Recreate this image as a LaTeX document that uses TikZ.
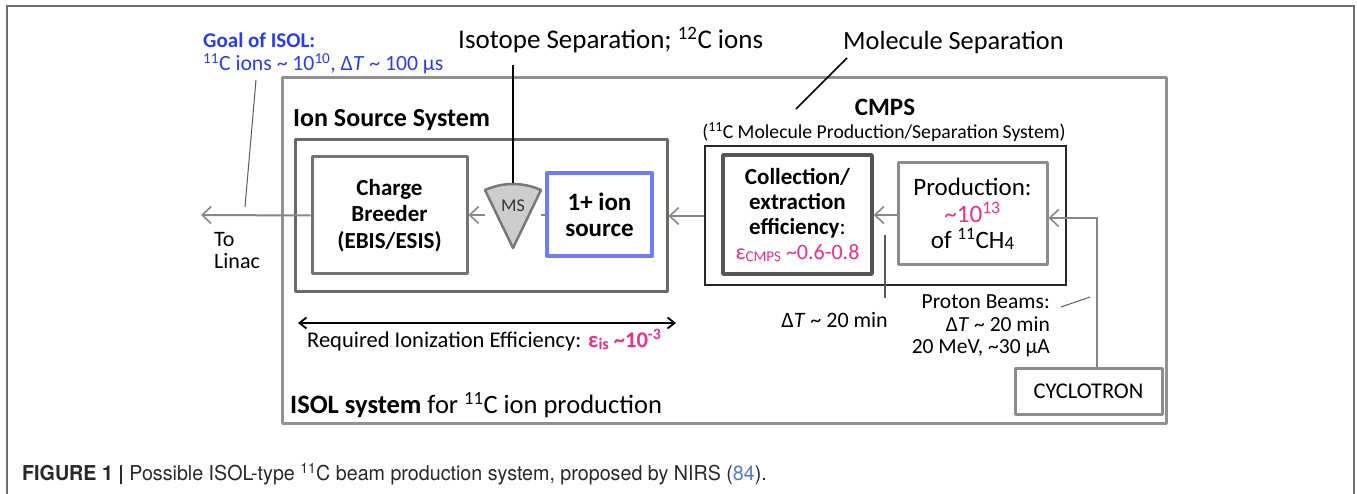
\documentclass[tikz,border=0pt]{standalone}
\usepackage{fontspec}
\setmainfont{Carlito}
\newfontfamily\capfont[FakeStretch=0.96]{TeX Gyre Heros}
\usetikzlibrary{arrows.meta}
\definecolor{goalblue}{RGB}{40,60,240}
\definecolor{magen}{RGB}{236,46,140}
\definecolor{srcblue}{RGB}{110,125,245}
\definecolor{capblue}{RGB}{90,120,200}
\definecolor{g145}{RGB}{145,145,145}
\definecolor{g140}{RGB}{140,140,140}
\definecolor{g135}{RGB}{135,135,135}
\definecolor{g120}{RGB}{120,120,120}
\definecolor{g115}{RGB}{115,115,115}
\definecolor{g110}{RGB}{110,110,110}
\definecolor{g105}{RGB}{105,105,105}
\definecolor{g90}{RGB}{90,90,90}
\definecolor{g85}{RGB}{85,85,85}
\definecolor{g50}{RGB}{50,50,50}
\definecolor{g40}{RGB}{40,40,40}
\definecolor{g205}{RGB}{205,205,205}
\newcommand{\fs}[1]{\fontsize{#1}{#1}\selectfont}
\newcommand{\fsb}[2]{\fontsize{#1}{#2}\selectfont}
\newcommand{\tl}{{\char"007E}}
\begin{document}
\begin{tikzpicture}[x=1pt,y=-1pt,
  txt/.style={inner sep=0pt, text=black},
  graybox/.style={draw=#1, line width=3pt, line join=round},
  conn/.style={draw=g135, line width=2pt,
     -{Straight Barb[length=9pt,width=17pt,line width=1.6pt]}},
  thin/.style={draw=g90, line width=1.1pt},
]
\useasboundingbox (0,0) rectangle (1357,494);
% outer frame
\draw[line width=2pt, draw=g110] (7,494) -- (7,6) -- (1354,6) -- (1354,494);

% big boxes
\node[graybox=g145, minimum width=884pt, minimum height=345pt, inner sep=0pt] (isol) at (724,250.5) {};
\node[graybox=g105, minimum width=372pt, minimum height=152pt, inner sep=0pt] (iss) at (481,216) {};
\node[draw=g40, line width=2.5pt, minimum width=361pt, minimum height=139pt, inner sep=0pt] (cmps) at (885.5,215.5) {};

% inner boxes
\node[graybox=g115, minimum width=155pt, minimum height=117pt, inner sep=0pt, align=center, font=\bfseries\fsb{23}{26.5}] (cb) at (389.5,215.5) {Charge\\Breeder\\(EBIS/ESIS)};
\node[draw=srcblue, line width=4.5pt, line join=round, minimum width=105pt, minimum height=83pt, inner sep=0pt, align=center, font=\bfseries\fsb{25}{26}] (src) at (599.5,214.5) {1+ ion\\source};
\node[graybox=g85, line width=3.5pt, minimum width=149pt, minimum height=119pt, inner sep=0pt, align=center, font=\bfseries\fsb{23}{25}] (coll) at (797.5,214.5) {Collection/\\extraction\\efficiency\mdseries:\\\textcolor{magen}{\mdseries\fsb{22}{25}ε\raisebox{-2pt}{\fs{15}CMPS} \tl0.6-0.8}};
\node[graybox=g140, minimum width=149pt, minimum height=102pt, inner sep=0pt, align=center, font=\fsb{25}{26.5}] (prod) at (972.5,214) {Production:\\\textcolor{magen}{\tl10\textsuperscript{13}}\\of \textsuperscript{11}CH\raisebox{-1pt}{\fs{19}4}};
\node[graybox=g140, minimum width=147pt, minimum height=46pt, inner sep=0pt, font=\fs{22.5}] (cyc) at (1088.5,391) {CYCLOTRON};

% MS cone
\coordinate (msL) at (485,190);
\coordinate (msR) at (541,190);
\coordinate (msB) at (513,248);
\draw[fill=g205, draw=g120, line width=2.5pt, line join=round]
  (msB) -- (msL) .. controls (503,182) and (523,182) .. (msR) -- cycle;
\node[txt, font=\fs{18}, text=g50] (ms) at (513,206) {MS};

% connectors
\coordinate (linac) at (201,215);
\draw[conn] (cb.west) -- (linac);
\draw[conn] (src.west |- 0,215) -- (msR |- 0,215) (msL |- 0,215) -- (cb.east |- 0,215);
\draw[conn] (cmps.west |- 0,216) -- (iss.east |- 0,216);
\draw[conn] (prod.west |- 0,215) -- (coll.east |- 0,215);
\coordinate (bend) at (1097,218);
\draw[conn] (cyc.north -| bend) -- (bend) -- (prod.east |- bend);

% text labels
\node[txt, anchor=west, align=left, font=\fsb{22}{22}] (tolinac) at (214,251) {To\\Linac};
\node[txt, anchor=west, font=\bfseries\fs{21}, text=goalblue] (goal) at (203,40) {Goal of ISOL:};
\node[txt, anchor=west, font=\fs{21.7}, text=goalblue] (goal2) at (203,64) {\textsuperscript{11}C ions \tl{} 10\textsuperscript{10}, Δ\textit{T} \tl{} 100 μs};
\coordinate (goalend) at (256,80);
\coordinate (goalarr) at (245,207);
\draw[thin, line width=1pt] (goalend) -- (goalarr);

\node[txt, anchor=west, font=\fs{27}] (iso) at (458,40) {Isotope Separation; \textsuperscript{12}C ions};
\coordinate (isoend) at (513,65);
\draw[line width=2.2pt] (isoend) -- (513,183);

\node[txt, anchor=west, font=\fs{26.3}] (mol) at (843,42) {Molecule Separation};
\coordinate (molA) at (847,58);
\coordinate (molB) at (796,109);
\draw[line width=1.5pt] (molA) -- (molB);

\node[txt, font=\bfseries\fs{25}] (cmpslab) at (885,107) {CMPS};
\node[txt, font=\fs{19.7}] (cmpssub) at (884,132) {(\textsuperscript{11}C Molecule Production/Separation System)};

\node[txt, anchor=west, font=\bfseries\fs{26}] (isslab) at (293,120) {Ion Source System};

% delta T
\coordinate (dtA) at (885,235);
\coordinate (dtB) at (885,298);
\draw[thin] (dtA) -- (dtB);
\node[txt, anchor=east, font=\fs{22}] (dt) at (888,320) {Δ\textit{T} \tl{} 20 min};

\node[txt, anchor=east, align=right, font=\fsb{21.5}{22.5}] (proton) at (1050,326) {Proton Beams:\\Δ\textit{T} \tl{} 20 min\\20 MeV, \tl30 μA};
\coordinate (prA) at (1061,307);
\coordinate (prB) at (1090,297);
\draw[thin, line width=1pt] (prA) -- (prB);

% required ionization efficiency
\coordinate (reqL) at (298,323);
\coordinate (reqR) at (676,323);
\draw[line width=1.8pt, {Straight Barb[length=7pt,width=11pt]}-{Straight Barb[length=7pt,width=11pt]}] (reqL) -- (reqR);
\node[txt, anchor=west, font=\fs{22.5}] (req) at (307,340) {Required Ionization Efficiency: \textcolor{magen}{\bfseries ε\raisebox{-2pt}{\fs{16}is} \tl10\textsuperscript{-3}}};

\node[txt, anchor=west, font=\fs{26.5}] (isollab) at (290,405) {\textbf{ISOL system} for \textsuperscript{11}C ion production};

% caption
\node[txt, anchor=west, font=\capfont\fs{20.5}, text=g40] (cap) at (22,474) {\textbf{FIGURE 1} \textbf{|} Possible ISOL-type \textsuperscript{11}C beam production system, proposed by NIRS (\textcolor{capblue}{84}).};
\end{tikzpicture}
\end{document}
